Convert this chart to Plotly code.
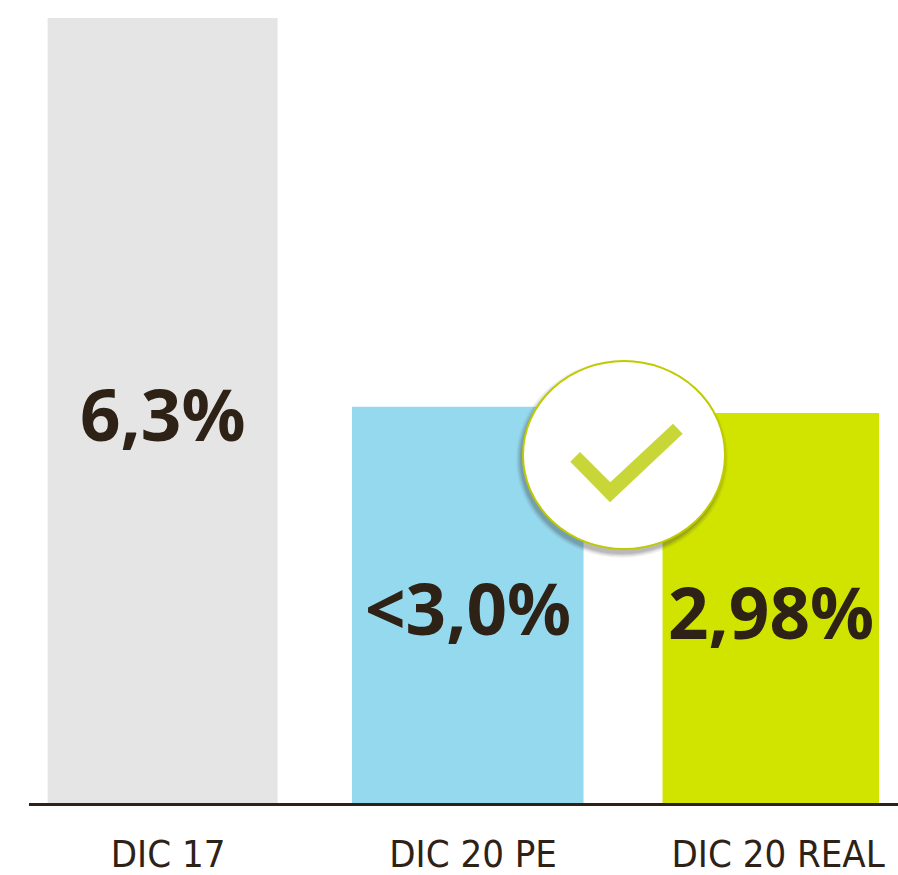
import plotly.graph_objects as go

W, H = 898, 875
categories = ["DIC 17", "DIC 20 PE", "DIC 20 REAL"]
bar_heights = [6.3, 3.18, 3.13]
value_labels = ["6,3%", "<3,0%", "2,98%"]
bar_colors = ["#E5E5E5", "#95D9EE", "#D0E400"]
bar_widths = [0.754, 0.759, 0.71]
bar_offsets = [-0.395, -0.397, -0.379]

INK = "#2E2217"
ML, MR, MT, MB = 29, 0, 0, 72
PW, PH = W - ML - MR, H - MT - MB
X0, X1 = -0.456, 2.393
UNIT = PW / (X1 - X0)


def px(x):
    return (x - ML) / PW


def py(y):
    return 1 - (y - MT) / PH


def ellipse(cx, cy, rx, ry, **kw):
    return dict(type="circle", xref="paper", yref="paper", x0=px(cx - rx), x1=px(cx + rx),
                y0=py(cy + ry), y1=py(cy - ry), **kw)


shapes = []
for grow, op in [(5, 0.05), (4, 0.06), (3, 0.08), (2, 0.10), (1, 0.12)]:
    shapes.append(ellipse(622, 459, 101 + grow, 94 + grow, fillcolor=f"rgba(60,60,60,{op})",
                          line=dict(width=0), layer="above"))
shapes.append(ellipse(624, 455, 101, 94, fillcolor="white", line=dict(color="#BFCB00", width=2), layer="above"))
check = [(580, 452), (610.3, 482.3), (673, 423.7), (682.7, 433.7), (610, 502.3), (570.3, 461.7)]
path = "M " + " L ".join(f"{px(x):.5f} {py(y):.5f}" for x, y in check) + " Z"
shapes.append(dict(type="path", xref="paper", yref="paper", path=path, fillcolor="#C8D638",
                   line=dict(width=0), layer="above"))

annotations = [
    dict(x=c, y=h / 2, text=t, showarrow=False, xanchor="center", yanchor="middle",
         xshift=(o + w / 2) * UNIT, yshift=-3,
         font=dict(family="Noto Sans", size=71, color=INK, weight="bold"))
    for c, h, t, o, w in zip(categories, bar_heights, value_labels, bar_offsets, bar_widths)
]

fig = go.Figure(go.Bar(
    x=categories, y=bar_heights, width=bar_widths, offset=bar_offsets,
    marker=dict(color=bar_colors, line=dict(width=0)),
    hoverinfo="skip",
))
fig.update_layout(
    width=W, height=H, autosize=False, showlegend=False,
    margin=dict(l=ML, r=MR, t=MT, b=MB, pad=0),
    paper_bgcolor="white", plot_bgcolor="white", shapes=shapes, annotations=annotations,
    xaxis=dict(type="category", range=[X0, X1], showgrid=False, zeroline=False,
               showline=True, linecolor=INK, linewidth=3, ticks="", ticklabelstandoff=15,
               tickfont=dict(family="DejaVu Sans Condensed, Roboto", size=38, color=INK), automargin=False),
    yaxis=dict(range=[0, 6.445], visible=False, automargin=False),
)
fig.write_html("out.html", config=dict(displayModeBar=False),
               post_script="document.body.style.margin='0';document.documentElement.style.overflow='hidden';")
